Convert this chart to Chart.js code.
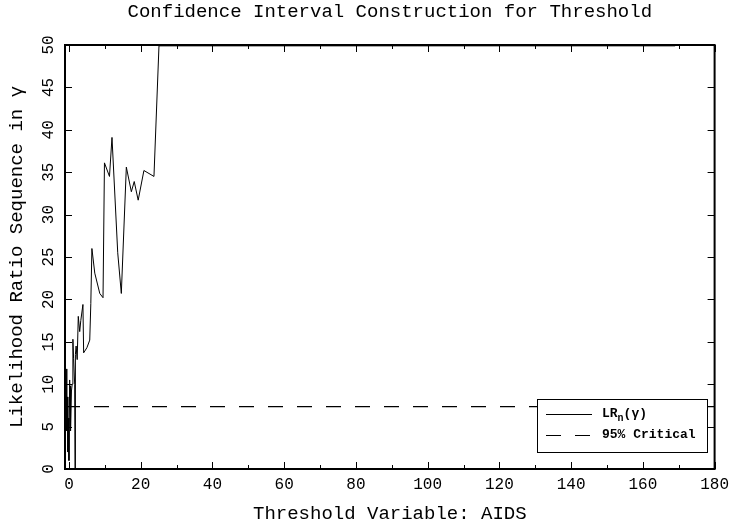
<!DOCTYPE html>
<html>
<head>
<meta charset="utf-8">
<script src="https://cdn.jsdelivr.net/npm/chart.js@4.4.1/dist/chart.umd.min.js"></script>
<style>
  body { margin: 0; background: #fff; }
  canvas { display: block; }
</style>
</head>
<body>
<canvas id="c" width="735" height="527"></canvas>
<script>
// LR_n(gamma) sequence
const thresholdX = [-0.8, -0.6, -0.5, -0.3, -0.1, 0.0, 0.2, 0.3, 0.4, 0.5, 0.7, 0.9, 1.1, 1.3, 1.6, 1.7, 1.8, 2.0, 2.3, 2.6,
                    3.0, 3.3, 3.9, 4.1, 5.0, 5.8, 6.1, 6.4, 7.2, 8.6, 9.5, 9.9, 11.3, 12.0, 13.6, 14.6, 16.0, 17.4, 18.2,
                    19.3, 20.9, 23.7, 25.1, 169];
const lrValues = [11.8, 4.5, 8.5, 2.0, 6.0, 1.0, 10.5, 8.0, 9.8, 4.5, 9.2, 10.0, 15.3, 13.0, 10.0, 0.0, 13.5, 14.5, 12.9, 18.0,
                  16.2, 17.5, 19.4, 13.7, 14.3, 15.2, 19.5, 26.0, 23.1, 20.7, 20.2, 36.1, 34.5, 39.1, 25.5, 20.7, 35.6, 32.7, 33.9,
                  31.7, 35.2, 34.5, 49.9, 49.9];
const criticalX = [-1.1, 180];
const criticalValue = 7.35;

const xMajorTicks = [0, 20, 40, 60, 80, 100, 120, 140, 160, 180];
const xMinorTicks = [10, 30, 50, 70, 90, 110, 130, 150, 170];
const yTicks = [0, 5, 10, 15, 20, 25, 30, 35, 40, 45, 50];

const MONO = '"Liberation Mono", "DejaVu Sans Mono", monospace';

const lrData = thresholdX.map((x, i) => ({ x, y: lrValues[i] }));
const critData = criticalX.map(x => ({ x, y: criticalValue }));

// frame with inward tick marks, like the original plot
const framePlugin = {
    id: 'frame',
    afterDatasetsDraw: (chart) => {
        const { ctx, chartArea: a, scales: { x, y } } = chart;
        ctx.save();
        ctx.strokeStyle = '#000';
        ctx.lineWidth = 1;
        ctx.beginPath();
        xMajorTicks.forEach(v => {
            const px = Math.round(x.getPixelForValue(v)) + 0.5;
            ctx.moveTo(px, a.bottom); ctx.lineTo(px, a.bottom - 7);
            ctx.moveTo(px, a.top); ctx.lineTo(px, a.top + 7);
        });
        xMinorTicks.forEach(v => {
            const px = Math.round(x.getPixelForValue(v)) + 0.5;
            ctx.moveTo(px, a.bottom); ctx.lineTo(px, a.bottom - 4);
            ctx.moveTo(px, a.top); ctx.lineTo(px, a.top + 4);
        });
        yTicks.forEach(v => {
            const py = Math.round(y.getPixelForValue(v)) + 0.5;
            ctx.moveTo(a.left, py); ctx.lineTo(a.left + 7, py);
            ctx.moveTo(a.right, py); ctx.lineTo(a.right - 7, py);
        });
        ctx.stroke();
        ctx.lineWidth = 2;
        ctx.strokeRect(a.left, a.top, a.right - a.left, a.bottom - a.top);
        ctx.restore();
    }
};

// boxed legend in the lower right
const legendBox = {
    id: 'legendBox',
    afterDatasetsDraw: (chart) => {
        const { ctx } = chart;
        const bx = 537, by = 399, bw = 170, bh = 53;
        ctx.save();
        ctx.fillStyle = '#fff';
        ctx.fillRect(bx, by, bw, bh);
        ctx.strokeStyle = '#000';
        ctx.lineWidth = 1;
        ctx.strokeRect(bx + 0.5, by + 0.5, bw, bh);

        ctx.beginPath();
        ctx.moveTo(546, 414.5); ctx.lineTo(592, 414.5);
        ctx.stroke();
        ctx.setLineDash([15, 14]);
        ctx.beginPath();
        ctx.moveTo(546, 435.5); ctx.lineTo(592, 435.5);
        ctx.stroke();
        ctx.setLineDash([]);

        ctx.fillStyle = '#000';
        ctx.textBaseline = 'middle';
        ctx.textAlign = 'left';
        ctx.font = 'bold 13px ' + MONO;
        ctx.fillText('LR', 602, 414);
        let w = ctx.measureText('LR').width;
        ctx.font = 'bold 10px ' + MONO;
        ctx.fillText('n', 602 + w, 418);
        w += ctx.measureText('n').width;
        ctx.font = 'bold 13px ' + MONO;
        ctx.fillText('(γ)', 602 + w, 414);
        ctx.fillText('95% Critical', 602, 435);
        ctx.restore();
    }
};

new Chart(document.getElementById('c'), {
    type: 'line',
    data: {
        datasets: [
            {
                label: 'LRn(γ)',
                data: lrData,
                borderColor: '#000',
                borderWidth: 1,
                pointRadius: 0,
                tension: 0,
                fill: false
            },
            {
                label: '95% Critical',
                data: critData,
                borderColor: '#000',
                borderWidth: 1.2,
                borderDash: [15, 14],
                pointRadius: 0,
                fill: false
            }
        ]
    },
    options: {
        responsive: false,
        animation: false,
        layout: { padding: { left: 0, right: 19, top: 0, bottom: 0 } },
        plugins: {
            legend: { display: false },
            tooltip: { enabled: false }
        },
        scales: {
            x: {
                type: 'linear',
                min: -1.1,
                max: 180,
                grid: { display: false, drawTicks: false },
                border: { display: false },
                afterBuildTicks: (s) => { s.ticks = xMajorTicks.map(v => ({ value: v })); },
                afterFit: (s) => { s.height = 58; },
                ticks: {
                    color: '#000',
                    padding: 6,
                    maxRotation: 0,
                    autoSkip: false,
                    font: { family: MONO, size: 16 }
                },
                title: {
                    display: true,
                    text: 'Threshold Variable: AIDS',
                    color: '#000',
                    font: { family: MONO, size: 19, lineHeight: 1.2 },
                    padding: { top: 0, bottom: 2 }
                }
            },
            // top axis only carries the plot title, centred over the plot area
            xTop: {
                type: 'linear',
                position: 'top',
                min: -1.1,
                max: 180,
                grid: { display: false, drawTicks: false },
                border: { display: false },
                ticks: { display: false },
                afterFit: (s) => { s.height = 45; },
                title: {
                    display: true,
                    text: 'Confidence Interval Construction for Threshold',
                    color: '#000',
                    font: { family: MONO, size: 19, lineHeight: 1.2 },
                    padding: { top: 1, bottom: 0 }
                }
            },
            y: {
                min: 0,
                max: 50,
                grid: { display: false, drawTicks: false },
                border: { display: false },
                afterBuildTicks: (s) => { s.ticks = yTicks.map(v => ({ value: v })); },
                afterFit: (s) => { s.width = 65; },
                ticks: {
                    color: '#000',
                    padding: 7,
                    minRotation: 90,
                    maxRotation: 90,
                    crossAlign: 'center',
                    autoSkip: false,
                    font: { family: MONO, size: 16 }
                },
                title: {
                    display: true,
                    text: 'Likelihood Ratio Sequence in γ',
                    color: '#000',
                    font: { family: MONO, size: 19, lineHeight: 1.2 },
                    padding: { top: 6, bottom: 0 }
                }
            }
        }
    },
    plugins: [framePlugin, legendBox]
});
</script>
</body>
</html>
